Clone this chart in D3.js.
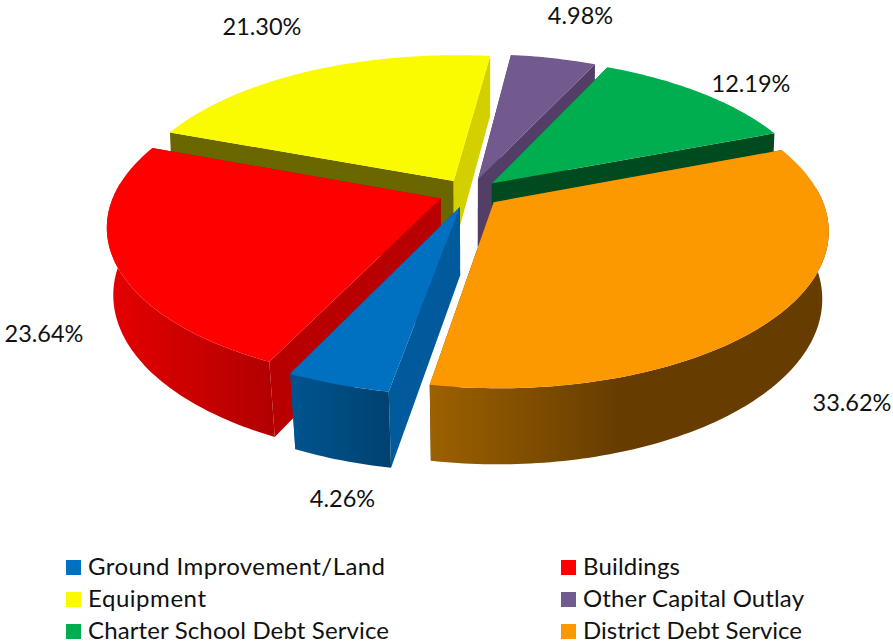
<!DOCTYPE html>
<html><head><meta charset="utf-8">
<script src="https://cdn.jsdelivr.net/npm/d3@7/dist/d3.min.js"></script>
<style>html,body{margin:0;padding:0;background:#fff}svg{display:block}
text{font-family:Lato,"Open Sans",sans-serif;fill:#111}</style>
</head><body><div id="chart"></div>
<script>
const categories=["Ground Improvement/Land","Buildings","Equipment","Other Capital Outlay","Charter School Debt Service","District Debt Service"];
const values=[4.26,23.64,21.30,4.98,12.19,33.62];
const labels=["4.26%","23.64%","21.30%","4.98%","12.19%","33.62%"];
const topColors=["#0070c0","#ff0000","#fbfb00","#725a8e","#00ae50","#fd9900"];
const startWall=["#005a9b","#b80000","#6a6600","#533e68","#004a20","#663c00"];
const endWall=["#005a9b","#b80000","#d4d000","#533e68","#004a20","#663c00"];
const outerFrom=["#00548f","#e60000","#d4d000","#533e68","#004a20","#9c6100"];
const outerTo=["#004271","#b00000","#d4d000","#533e68","#004a20","#663c00"];

const W=893,H=644;
const svg=d3.select("#chart").append("svg").attr("width",W).attr("height",H);
const defs=svg.append("defs");
const deg=Math.PI/180;
const R=326,K=0.463,P=0.17,CX=469.5,CY=193,E=0.095;
const BOT_H=68,BOT_SLOPE=7.6;

const pie=d3.pie().sort(null).startAngle(190*deg).endAngle(550*deg);
const arcs=pie(values).map((a,i)=>{
  const mid=(a.startAngle+a.endAngle)/2;
  return {i,a0:a.startAngle,a1:a.endAngle,
    ex:E*Math.sin(mid),ey:-E*Math.cos(mid),depth:-Math.cos(mid)};
}).sort((p,q)=>d3.ascending(p.depth,q.depth));

const project=(wx,wy)=>{
  const f=1/(1-P*wy);
  return [CX+R*wx*f,CY+R*K*wy*f];
};
const drop=(p,wy)=>[CX+(0.985-0.013*wy)*(p[0]-CX),p[1]+BOT_H+BOT_SLOPE*wy];
const topPt=(s,t)=>project(s.ex+Math.sin(t),s.ey-Math.cos(t));
const botPt=(s,t)=>drop(topPt(s,t),s.ey-Math.cos(t));
const line=d3.line();
const closed=pts=>line(pts)+"Z";
const g=svg.append("g");

arcs.forEach(s=>{
  const n=Math.max(6,Math.ceil((s.a1-s.a0)/deg));
  const ts=d3.range(n+1).map(j=>s.a0+(s.a1-s.a0)*j/n);
  const topArc=ts.map(t=>topPt(s,t));
  const botArc=ts.map(t=>botPt(s,t));
  const apexT=project(s.ex,s.ey),apexB=drop(apexT,s.ey);
  // radial walls
  g.append("path").attr("d",closed([apexT,topArc[0],botArc[0],apexB])).attr("fill",startWall[s.i]);
  g.append("path").attr("d",closed([apexT,topArc[n],botArc[n],apexB])).attr("fill",endWall[s.i]);
  // outer wall with gradient, only on the part of the rim that faces the viewer
  const front=ts.filter(t=>-Math.cos(t)>-0.1);
  if(front.length>1){
    const fTop=front.map(t=>topPt(s,t)),fBot=front.map(t=>botPt(s,t));
    const xs=fTop.concat(fBot).map(d=>d[0]);
    const gid="outer"+s.i;
    const lg=defs.append("linearGradient").attr("id",gid).attr("gradientUnits","userSpaceOnUse")
      .attr("x1",d3.min(xs)).attr("x2",d3.max(xs)).attr("y1",0).attr("y2",0);
    lg.append("stop").attr("offset",0).attr("stop-color",outerFrom[s.i]);
    lg.append("stop").attr("offset",s.i===5?0.48:1).attr("stop-color",outerTo[s.i]);
    g.append("path").attr("d",closed(fTop.concat(fBot.slice().reverse()))).attr("fill",`url(#${gid})`);
  }
  // top face
  g.append("path").attr("d",closed([apexT].concat(topArc))).attr("fill",topColors[s.i]);
});

// data labels
const labelAnchors=[[342.5,507],[44,342],[262,35],[580.5,24],[751,92],[852,411]];
svg.append("g").selectAll("text").data(labels).join("text")
  .attr("x",(d,i)=>labelAnchors[i][0]).attr("y",(d,i)=>labelAnchors[i][1])
  .attr("text-anchor","middle").attr("font-size",23.5).text(d=>d);

// legend
const colX=[66,561],rowY=[560,592,624];
const legendTextWidths=[297,97,118,221,301,219];
const lg=svg.append("g").selectAll("g").data(categories).join("g")
  .attr("transform",(d,i)=>`translate(${colX[i%2]},${rowY[Math.floor(i/2)]})`);
lg.append("rect").attr("width",15).attr("height",15).attr("fill",(d,i)=>topColors[i]);
lg.append("text").attr("x",22).attr("y",14.5).attr("font-size",24)
  .attr("textLength",(d,i)=>legendTextWidths[i]).attr("lengthAdjust","spacing").text(d=>d);
</script></body></html>
